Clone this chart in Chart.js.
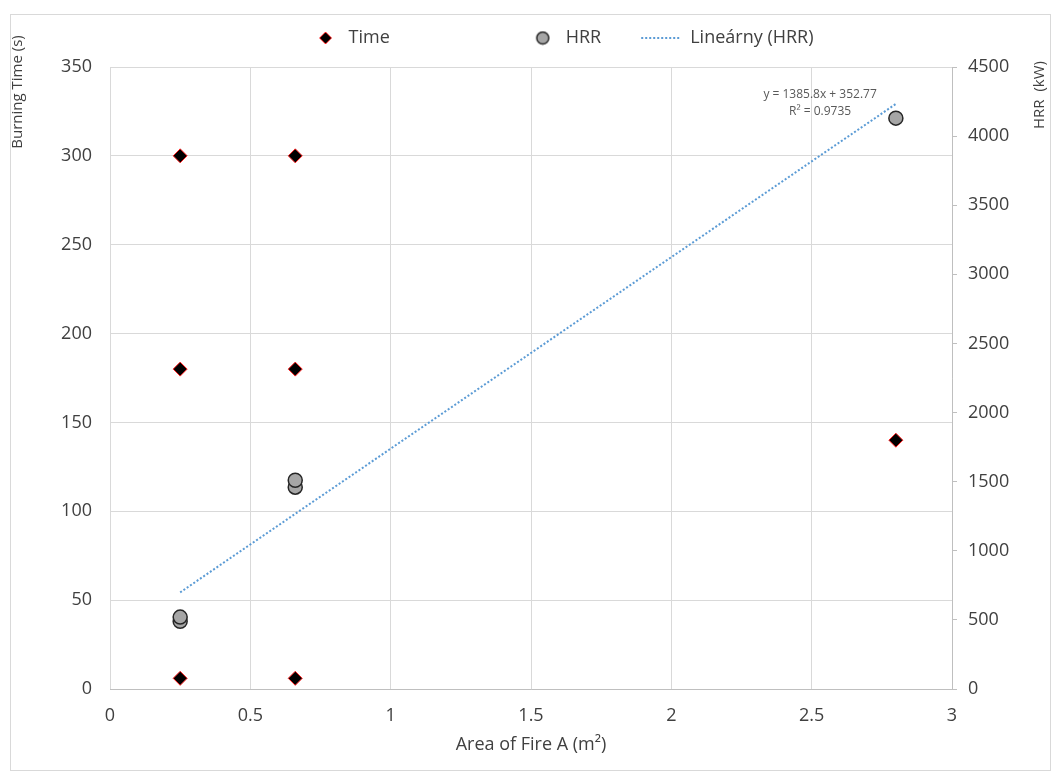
<!DOCTYPE html>
<html>
<head>
<meta charset="utf-8">
<script src="https://cdn.jsdelivr.net/npm/chart.js@4.4.0/dist/chart.umd.min.js"></script>
<style>
  html, body { margin: 0; padding: 0; background: #fff; }
</style>
</head>
<body>
<canvas id="chart" width="1061" height="778"></canvas>
<script>
// Values.
const areaTime = [0.25, 0.25, 0.25, 0.66, 0.66, 0.66, 2.8];
const burningTime = [6, 180, 300, 6, 180, 300, 140];
const areaHrr = [0.25, 0.25, 0.66, 0.66, 2.8];
const hrrValues = [490, 520, 1460, 1510, 4130];

// Excel linear trendline shown on the chart (HRR series).
const trendSlope = 1385.8;
const trendIntercept = 352.77;
const trendR2 = 0.9735;
const trendRange = [0.25, 2.8];

const seriesNames = ['Time', 'HRR', 'Lineárny (HRR)'];
const xRange = [0, 3, 0.5];
const timeRange = [0, 350, 50];
const hrrRange = [0, 4500, 500];

const FONT = '"Open Sans", "Noto Sans", sans-serif';
const TEXT = '#404040';

// Legend symbols are drawn on 40px wide canvases, marker near the right so the text sits close.
function diamondIcon() {
    const c = document.createElement('canvas');
    c.width = 40; c.height = 14;
    const g = c.getContext('2d');
    g.beginPath();
    g.moveTo(26, 1); g.lineTo(32, 7); g.lineTo(26, 13); g.lineTo(20, 7);
    g.closePath();
    g.fillStyle = '#000';
    g.fill();
    g.strokeStyle = '#ff2020';
    g.lineWidth = 1;
    g.stroke();
    return c;
}

function circleIcon() {
    const c = document.createElement('canvas');
    c.width = 40; c.height = 15;
    const g = c.getContext('2d');
    g.beginPath();
    g.arc(26, 7.5, 6, 0, Math.PI * 2);
    g.fillStyle = '#a6a6a6';
    g.fill();
    g.strokeStyle = '#262626';
    g.lineWidth = 1.5;
    g.stroke();
    return c;
}

// Outer frame, like the Excel chart border.
const framePlugin = {
    id: 'frame',
    beforeDraw(chart) {
        const ctx = chart.ctx;
        ctx.save();
        ctx.fillStyle = '#fff';
        ctx.fillRect(0, 0, chart.width, chart.height);
        ctx.strokeStyle = '#d9d9d9';
        ctx.lineWidth = 1;
        ctx.strokeRect(10.5, 14.5, chart.width - 21, chart.height - 22);
        ctx.restore();
    }
};

// The legend is off-centre in the original and sits a bit higher.
const legendShift = {
    id: 'legendShift',
    afterLayout(chart) {
        chart.legend.left += 26;
        chart.legend.right += 26;
        chart.legend.top -= 10;
        chart.legend.bottom -= 10;
    }
};

// Vertical axis titles sit near the top in the original, plus the trendline label.
const extraText = {
    id: 'extraText',
    afterDraw(chart) {
        const ctx = chart.ctx;
        const area = chart.chartArea;
        ctx.save();
        ctx.fillStyle = TEXT;
        ctx.font = '15px ' + FONT;
        ctx.textAlign = 'center';
        ctx.textBaseline = 'middle';

        ctx.save();
        ctx.translate(area.left - 92, area.top + 25);
        ctx.rotate(-Math.PI / 2);
        ctx.fillText('Burning Time (s)', 0, 0);
        ctx.restore();

        ctx.save();
        ctx.translate(area.right + 88, area.top + 28);
        ctx.rotate(-Math.PI / 2);
        ctx.fillText('HRR  (kW)', 0, 0);
        ctx.restore();

        const xs = chart.scales.x, ys = chart.scales.y1;
        const px = xs.getPixelForValue(2.53);
        const py = ys.getPixelForValue(4300);
        ctx.fillStyle = '#595959';
        ctx.font = '12px ' + FONT;
        ctx.fillText('y = ' + trendSlope + 'x + ' + trendIntercept, px, py);
        ctx.fillText('R² = ' + trendR2, px, py + 17);
        ctx.restore();
    }
};

const timePoints = areaTime.map((x, i) => ({ x: x, y: burningTime[i] }));
const hrrPoints = areaHrr.map((x, i) => ({ x: x, y: hrrValues[i] }));
const trendPoints = trendRange.map(x => ({ x: x, y: trendSlope * x + trendIntercept }));

new Chart(document.getElementById('chart'), {
    type: 'scatter',
    data: {
        datasets: [
            {
                label: seriesNames[0],
                data: timePoints,
                yAxisID: 'y',
                pointStyle: 'rectRot',
                pointRadius: 7,
                pointBackgroundColor: '#000',
                pointBorderColor: '#ff2020',
                pointBorderWidth: 1,
                order: 1
            },
            {
                label: seriesNames[1],
                data: hrrPoints,
                yAxisID: 'y1',
                pointStyle: 'circle',
                pointRadius: 7,
                pointBackgroundColor: '#a6a6a6',
                pointBorderColor: '#262626',
                pointBorderWidth: 1.5,
                order: 2
            },
            {
                label: seriesNames[2],
                data: trendPoints,
                yAxisID: 'y1',
                showLine: true,
                pointRadius: 0,
                pointStyle: 'line',
                borderColor: '#5b9bd5',
                borderWidth: 2,
                borderDash: [2, 2],
                order: 3
            }
        ]
    },
    options: {
        responsive: false,
        animation: false,
        layout: { padding: { left: 10, right: 10, top: 29, bottom: 0 } },
        plugins: {
            tooltip: { enabled: false },
            legend: {
                position: 'top',
                labels: {
                    usePointStyle: true,
                    pointStyleWidth: 40,
                    padding: 10,
                    color: TEXT,
                    font: { family: FONT, size: 18 },
                    generateLabels(chart) {
                        const items = Chart.defaults.plugins.legend.labels.generateLabels(chart);
                        items[0].pointStyle = diamondIcon();
                        items[0].text = seriesNames[0] + '\u2003'.repeat(6) + '\u2002';
                        items[1].pointStyle = circleIcon();
                        items[1].text = seriesNames[1] + '\u2003\u2002\u2009';
                        items[2].lineDash = [2, 2];
                        return items;
                    }
                }
            }
        },
        scales: {
            x: {
                type: 'linear',
                min: xRange[0],
                max: xRange[1],
                ticks: {
                    stepSize: xRange[2],
                    color: TEXT,
                    font: { family: FONT, size: 18 },
                    padding: 16,
                    callback: v => String(v)
                },
                grid: { color: '#d9d9d9', drawTicks: false },
                border: { color: '#bfbfbf' },
                title: {
                    display: true,
                    text: 'Area of Fire A (m²)',
                    color: TEXT,
                    font: { family: FONT, size: 18 },
                    padding: { top: 0, bottom: 22 }
                },
                afterFit(scale) { scale.height = 89; }
            },
            y: {
                position: 'left',
                min: timeRange[0],
                max: timeRange[1],
                ticks: { stepSize: timeRange[2], color: TEXT, font: { family: FONT, size: 18 }, padding: 18 },
                grid: { color: '#d9d9d9', drawTicks: false },
                border: { display: false },
                afterFit(scale) { scale.width = 100; }
            },
            y1: {
                position: 'right',
                min: hrrRange[0],
                max: hrrRange[1],
                ticks: {
                    stepSize: hrrRange[2],
                    color: TEXT,
                    font: { family: FONT, size: 18 },
                    padding: 11,
                    callback: v => String(v)
                },
                grid: { drawOnChartArea: false, color: '#bfbfbf', tickLength: 5 },
                border: { color: '#bfbfbf' },
                afterFit(scale) { scale.width = 99; }
            }
        }
    },
    plugins: [framePlugin, legendShift, extraText]
});
</script>
</body>
</html>
